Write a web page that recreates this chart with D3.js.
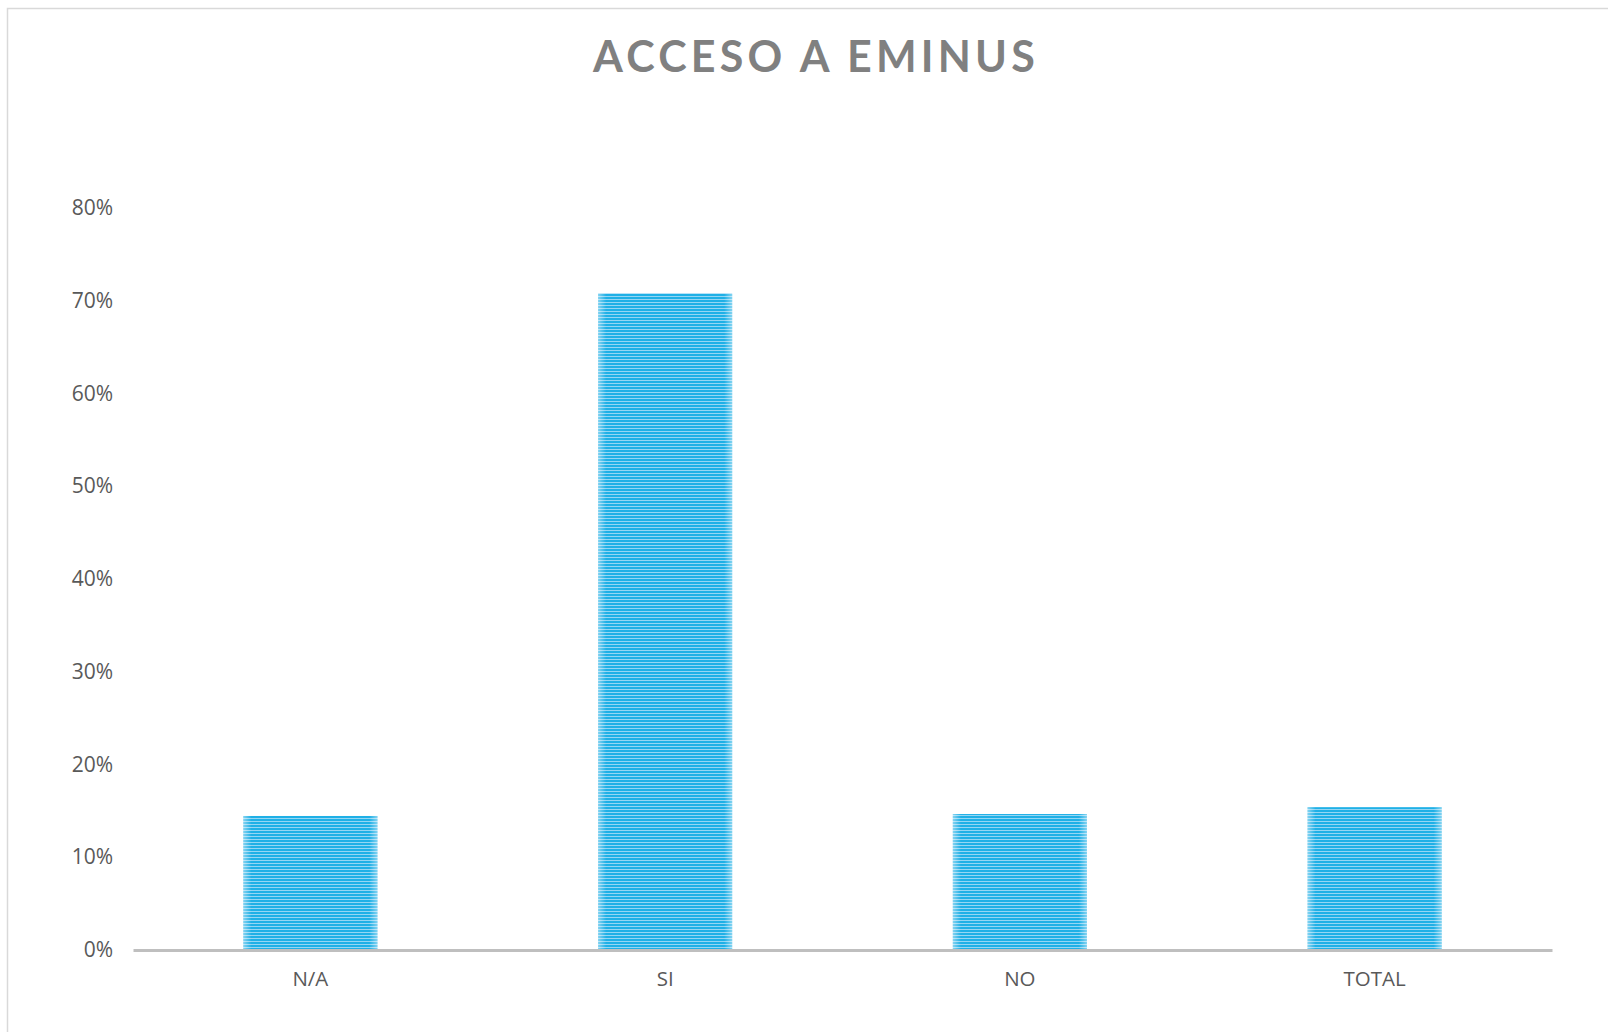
<!DOCTYPE html>
<html><head><meta charset="utf-8">
<script src="https://cdn.jsdelivr.net/npm/d3@7"></script>
<style>html,body{margin:0;padding:0;background:#fff;overflow:hidden}</style>
</head><body>
<svg id="chart" width="1608" height="1032"></svg>
<script>
const categories = ["N/A", "SI", "NO", "TOTAL"];
const values = [0.1445, 0.708, 0.1466, 0.154];
const yTicks = [0, 0.1, 0.2, 0.3, 0.4, 0.5, 0.6, 0.7, 0.8];
const title = "ACCESO A EMINUS";

const svg = d3.select("#chart");
const W = 1608, H = 1032;
const m = {left: 133, right: 56, top: 208, bottom: 82};
const plotW = W - m.left - m.right, plotH = H - m.top - m.bottom;

svg.append("rect").attr("x", 7.5).attr("y", 8.5).attr("width", 1620).attr("height", 1040)
  .attr("fill", "#fff").attr("stroke", "#d9d9d9").attr("stroke-width", 1.5);

const defs = svg.append("defs");
const pat = defs.append("pattern").attr("id", "stripes").attr("patternUnits", "userSpaceOnUse")
  .attr("width", 10).attr("height", 3);
pat.append("rect").attr("width", 10).attr("height", 3).attr("fill", "#94d6f4");
pat.append("rect").attr("width", 10).attr("height", 2).attr("fill", "#1fb0e6");
const grad = defs.append("linearGradient").attr("id", "edge").attr("x1", 0).attr("x2", 1);
grad.append("stop").attr("offset", 0).attr("stop-color", "#fff").attr("stop-opacity", 0.45);
grad.append("stop").attr("offset", 0.06).attr("stop-color", "#fff").attr("stop-opacity", 0);
grad.append("stop").attr("offset", 0.94).attr("stop-color", "#fff").attr("stop-opacity", 0);
grad.append("stop").attr("offset", 1).attr("stop-color", "#fff").attr("stop-opacity", 0.45);

const x = d3.scaleBand().domain(categories).range([m.left, m.left + plotW]).paddingInner(0.622).paddingOuter(0.311);
const y = d3.scaleLinear().domain([0, 0.8]).range([m.top + plotH, m.top]);

svg.append("text").attr("x", 816).attr("y", 72).attr("text-anchor", "middle")
  .attr("font-family", "Lato, 'Open Sans', sans-serif").attr("font-weight", 700)
  .attr("font-size", 43).attr("letter-spacing", 4.2).attr("fill", "#808080").text(title);

const yAxis = svg.append("g").attr("transform", `translate(${m.left},0)`)
  .call(d3.axisLeft(y).tickValues(yTicks).tickFormat(d3.format(".0%")).tickSize(0).tickPadding(20));
yAxis.select(".domain").remove();
yAxis.selectAll("text").attr("font-family", "'Open Sans', sans-serif").attr("font-size", 21)
  .attr("fill", "#595959");

const bars = svg.append("g");
bars.selectAll("rect.bar").data(values).join("rect").attr("class", "bar")
  .attr("x", (d, i) => x(categories[i])).attr("width", x.bandwidth())
  .attr("y", d => y(d)).attr("height", d => y(0) - y(d)).attr("fill", "url(#stripes)");
bars.selectAll("rect.edge").data(values).join("rect").attr("class", "edge")
  .attr("x", (d, i) => x(categories[i])).attr("width", x.bandwidth())
  .attr("y", d => y(d)).attr("height", d => y(0) - y(d)).attr("fill", "url(#edge)");

const xAxis = svg.append("g").attr("transform", `translate(0,${y(0)})`)
  .call(d3.axisBottom(x).tickSize(0).tickPadding(21));
xAxis.select(".domain").attr("stroke", "#bfbfbf").attr("stroke-width", 3);
xAxis.selectAll("text").attr("font-family", "'Open Sans', sans-serif").attr("font-size", 20.5)
  .attr("fill", "#595959");
</script>
</body></html>
